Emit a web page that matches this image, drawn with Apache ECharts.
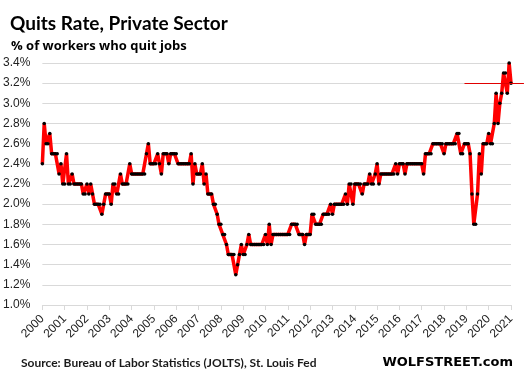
<!DOCTYPE html>
<html><head><meta charset="utf-8">
<script src="https://cdn.jsdelivr.net/npm/echarts@6/dist/echarts.min.js"></script>
<style>html,body{margin:0;padding:0;background:#fff}#c{width:525px;height:371px}</style>
</head><body><div id="c"></div>
<script>
// Tick labels on the x axis (one per December)
const yearLabels = ['2000','2001','2002','2003','2004','2005','2006','2007','2008','2009','2010',
  '2011','2012','2013','2014','2015','2016','2017','2018','2019','2020','2021'];

// Monthly quits rate, private sector (%), Dec 2000 .. Dec 2021
const quitsPart1 = [2.4,2.8,2.6,2.6,2.7,2.5,2.5,2.5,2.5,2.3, 2.4,2.2,2.2,2.5,2.2,2.2,2.3,2.2,2.2,2.2,
  2.2,2.2,2.1,2.1,2.2,2.1,2.2,2.1,2.0,2.0, 2.0,2.0,1.9,2.0,2.1,2.1,2.1,2.0,2.2,2.2,
  2.1,2.1,2.3,2.2,2.2,2.2,2.2,2.4,2.3,2.3];
const quitsPart2 = [2.3,2.3,2.3,2.3,2.3,2.3,2.5,2.6,2.4,2.4, 2.4,2.4,2.5,2.4,2.3,2.5,2.5,2.5,2.4,2.5,
  2.5,2.5,2.5,2.4,2.4,2.4,2.4,2.4,2.4,2.4, 2.5,2.2,2.4,2.3,2.3,2.3,2.4,2.2,2.3,2.1,
  2.1,2.1,2.0,2.0,1.9,1.8,1.8,1.7,1.7,1.6];
const quitsPart3 = [1.5,1.5,1.5,1.5,1.3,1.4,1.5,1.6,1.5,1.5, 1.6,1.7,1.6,1.6,1.6,1.6,1.6,1.6,1.6,1.6,
  1.7,1.6,1.8,1.6,1.7,1.7,1.7,1.7,1.7,1.7, 1.7,1.7,1.7,1.7,1.8,1.8,1.8,1.8,1.7,1.7,
  1.7,1.6,1.7,1.7,1.7,1.9,1.9,1.8,1.8,1.8];
const quitsPart4 = [1.8,1.9,1.9,1.9,1.9,2.0,1.9,2.0,2.0,2.0, 2.0,2.0,2.0,2.1,2.0,2.2,2.2,2.0,2.2,2.2,
  2.2,2.2,2.1,2.2,2.2,2.2,2.3,2.2,2.2,2.3, 2.4,2.2,2.3,2.3,2.3,2.3,2.3,2.3,2.3,2.3,
  2.4,2.3,2.4,2.4,2.4,2.3,2.4,2.4,2.4,2.4];
const quitsPart5 = [2.4,2.4,2.4,2.4,2.4,2.3,2.5,2.5,2.5,2.5, 2.6,2.6,2.6,2.6,2.6,2.6,2.5,2.6,2.6,2.6,
  2.6,2.6,2.6,2.7,2.7,2.5,2.5,2.6,2.6,2.6, 2.5,2.1,1.8,1.8,2.1,2.5,2.3,2.6,2.6,2.6,
  2.7,2.6,2.6,2.8,3.1,2.8,3.0,3.1,3.3,3.3, 3.1,3.4,3.2];

// Latest reading, marked by a reference line
const latestLevel = 3.2;
const refLineStart = '2019-11';

const rate = [].concat(quitsPart1, quitsPart2, quitsPart3, quitsPart4, quitsPart5);
const months = rate.map((_, i) => {
  const m = 11 + i;
  return (2000 + Math.floor(m / 12)) + '-' + String(m % 12 + 1).padStart(2, '0');
});

const chart = echarts.init(document.getElementById('c'), null, {renderer: 'canvas'});
chart.setOption({
  animation: false,
  backgroundColor: '#ffffff',
  title: [
    {text: 'Quits Rate, Private Sector', left: 5, top: 9,
     textStyle: {fontFamily: 'Lato', fontWeight: 'bold', fontSize: 19, color: '#000'}},
    {text: '% of workers who quit jobs', left: 6, top: 35,
     textStyle: {fontFamily: 'Open Sans', fontWeight: 'bold', fontSize: 13, color: '#000'}},
    {text: 'Source: Bureau of Labor Statistics (JOLTS), St. Louis Fed', left: 16, top: 352,
     textStyle: {fontFamily: 'Lato', fontWeight: 'bold', fontSize: 12, color: '#1a1a1a'}},
    {text: 'WOLFSTREET.com', right: 7, top: 351,
     textStyle: {fontFamily: 'DejaVu Sans', fontWeight: 'bold', fontSize: 13, color: '#000'}}
  ],
  grid: {left: 41, right: 14, top: 63, bottom: 66},
  xAxis: {
    type: 'category', data: months, boundaryGap: false,
    axisLine: {lineStyle: {color: '#d9d9d9', width: 1}},
    axisTick: {show: true, interval: 11, length: 5, lineStyle: {color: '#d9d9d9'}},
    axisLabel: {interval: 11, rotate: 45, margin: 12, fontSize: 12, color: '#222',
      fontFamily: 'Liberation Sans',
      formatter: (v, idx) => yearLabels[Math.round(idx / 12)]},
    splitLine: {show: false}
  },
  yAxis: {
    type: 'value', min: 1.0, max: 3.4, interval: 0.2,
    axisLine: {show: false}, axisTick: {show: false},
    axisLabel: {margin: 12, fontSize: 12, color: '#222', fontFamily: 'Liberation Sans',
      formatter: v => v.toFixed(1) + '%'},
    splitLine: {lineStyle: {color: '#d9d9d9', width: 1}}
  },
  series: [{
    type: 'line', data: rate,
    showAllSymbol: true, symbol: 'circle', symbolSize: 3.5,
    itemStyle: {color: '#000'},
    lineStyle: {color: '#ff0000', width: 3.5},
    emphasis: {disabled: true},
    markLine: {
      silent: true, symbol: 'none',
      lineStyle: {color: '#e00000', width: 1, type: 'solid'},
      label: {show: false},
      data: [[{xAxis: refLineStart, yAxis: latestLevel},
              {xAxis: months[months.length - 1], yAxis: latestLevel, x: '99.8%'}]]
    }
  }]
});
</script></body></html>
